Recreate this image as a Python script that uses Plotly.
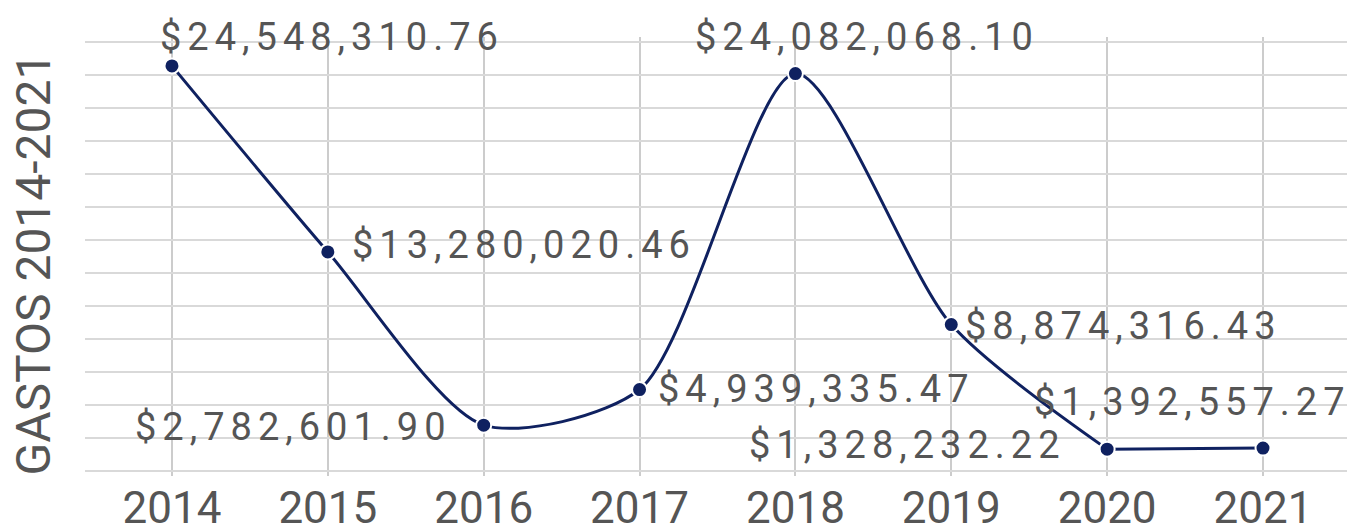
import plotly.graph_objects as go

years = [2014, 2015, 2016, 2017, 2018, 2019, 2020, 2021]
gastos = [24548310.76, 13280020.46, 2782601.90, 4939335.47,
          24082068.10, 8874316.43, 1328232.22, 1392557.27]
axis_title = "GASTOS 2014-2021"

# label offsets in pixels (dx, dy) relative to each point
label_dx = [160, 196, -190, 177, 72, 172, -200, -70]
label_dy = [29, 7, -2, 1, 37, -1, 4, 46]

NAVY = "#0f2160"
TEXT = "#555555"
FONT = "Roboto"

fig = go.Figure()
# smoothed curve up to 2020, flat straight segment 2020-2021
fig.add_trace(go.Scatter(
    x=years[:7], y=gastos[:7], mode="lines",
    line=dict(color=NAVY, width=3, shape="spline", smoothing=0.75),
    hoverinfo="skip", showlegend=False,
))
fig.add_trace(go.Scatter(
    x=years[6:], y=gastos[6:], mode="lines",
    line=dict(color=NAVY, width=3),
    hoverinfo="skip", showlegend=False,
))
fig.add_trace(go.Scatter(
    x=years, y=gastos, mode="markers",
    marker=dict(size=15, color=NAVY, line=dict(color="white", width=2)),
    hoverinfo="skip", showlegend=False,
))

for xv, yv, dx, dy in zip(years, gastos, label_dx, label_dy):
    fig.add_annotation(
        x=xv, y=yv, text=f"${yv:,.2f}", showarrow=False,
        xanchor="center", yanchor="middle", xshift=dx, yshift=dy,
        font=dict(family=FONT, size=38, color=TEXT),
    )

# vertical axis title
fig.add_annotation(
    x=0, y=0.5, xref="paper", yref="paper", text=axis_title,
    textangle=-90, showarrow=False, xanchor="center", yanchor="middle",
    xshift=-52, yshift=-8,
    font=dict(family=FONT, size=48, color=TEXT),
)

fig.update_layout(
    width=1352, height=528,
    margin=dict(l=85, r=5, t=37, b=52),
    paper_bgcolor="white", plot_bgcolor="white",
    font=dict(family=FONT, color=TEXT),
)
fig.update_xaxes(
    range=[2013.442, 2021.539], tickmode="array", tickvals=years,
    ticktext=[str(y) for y in years],
    tickfont=dict(family=FONT, size=44, color=TEXT),
    ticklabelstandoff=2, automargin=False,
    showgrid=True, gridcolor="#cccccc", gridwidth=2,
    zeroline=False, showline=False, ticks="",
)
fig.update_yaxes(
    range=[-0.3e6, 26.3e6], tick0=0, dtick=2e6, showticklabels=False,
    showgrid=True, gridcolor="#d9d9d9", gridwidth=2,
    zeroline=False, showline=False, ticks="", automargin=False,
)

post = """
document.body.style.margin = '0';
var gd = document.getElementById('{plot_id}');
function ls(){
  gd.querySelectorAll('.annotation-text').forEach(function(t){
    if (t.textContent.charAt(0) === '$') { t.style.letterSpacing = '6px'; }
  });
}
ls();
if (gd.on) { gd.on('plotly_afterplot', ls); }
"""
fig.write_html("out.html", post_script=post, config={"displayModeBar": False})
